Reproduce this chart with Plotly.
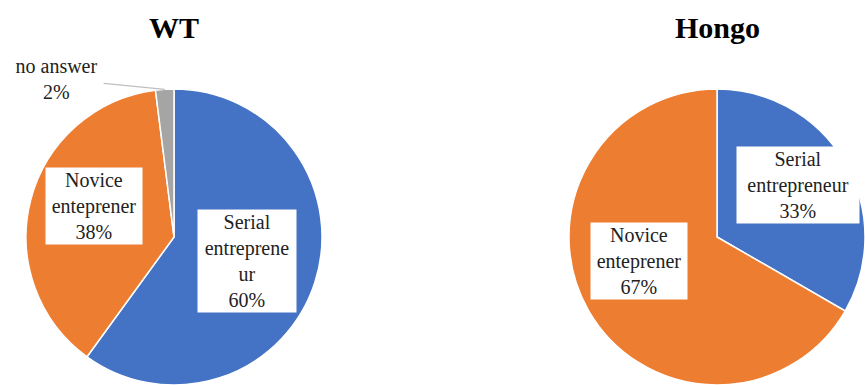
import math
import plotly.graph_objects as go

# ---------------- data ----------------
titles = ["WT", "Hongo"]
wt_categories = ["Serial entrepreneur", "Novice enteprener", "no answer"]
wt_values = [60, 38, 2]
wt_label_text = ["Serial<br>entreprene<br>ur", "Novice<br>enteprener", "no answer"]
hongo_categories = ["Serial entrepreneur", "Novice enteprener"]
hongo_values = [1, 2]
hongo_label_text = ["Serial<br>entrepreneur", "Novice<br>enteprener"]

# ---------------- style ----------------
W, H = 865, 385
R = 148
COLORS = {"Serial entrepreneur": "#4472C4", "Novice enteprener": "#ED7D31", "no answer": "#A5A5A5"}
FONT = "Liberation Serif"
pies = [
    dict(cx=174, cy=H - R, cats=wt_categories, vals=wt_values, text=wt_label_text,
         rfrac=[0.52, 0.58, 1.33], dtheta=[0, 7, -33], outside=[False, False, True],
         boxw=[98, 96, 93]),
    dict(cx=W - R, cy=H - R, cats=hongo_categories, vals=hongo_values, text=hongo_label_text,
         rfrac=[0.65, 0.55], dtheta=[-3, 13], outside=[False, False],
         boxw=[122, 96]),
]

fig = go.Figure()
annotations = []
for title, p in zip(titles, pies):
    cx, cy = p["cx"], p["cy"]
    fig.add_trace(go.Pie(
        labels=p["cats"], values=p["vals"], sort=False, direction="clockwise", rotation=0,
        marker=dict(colors=[COLORS[c] for c in p["cats"]], line=dict(color="white", width=1.5)),
        textinfo="none", hoverinfo="label+percent", showlegend=False,
        domain=dict(x=[(cx - R) / W, (cx + R) / W], y=[0, 2 * R / H]),
    ))
    annotations.append(dict(
        x=cx / W, y=1 - 27 / H, xref="paper", yref="paper", text=f"<b>{title}</b>",
        showarrow=False, font=dict(family=FONT, size=30, color="black"),
        xanchor="center", yanchor="middle"))
    total = sum(p["vals"])
    cum = 0
    for i, v in enumerate(p["vals"]):
        mid = (cum + v / 2) / total * 360
        cum += v
        pct = round(100 * v / total)
        txt = f"{p['text'][i]}<br>{pct}%"
        th = math.radians(mid + p["dtheta"][i])
        tx = cx + p["rfrac"][i] * R * math.sin(th)
        ty = cy - p["rfrac"][i] * R * math.cos(th)
        common = dict(xref="paper", yref="paper", text=txt, bgcolor="white", borderpad=1,
                      width=p["boxw"][i] - 2,
                      font=dict(family=FONT, size=20, color="#222222"))
        if p["outside"][i]:
            hm = math.radians(mid)
            hx = cx + R * math.sin(hm)
            hy = cy - R * math.cos(hm)
            annotations.append(dict(x=hx / W, y=1 - hy / H, ax=tx - hx, ay=ty - hy,
                                    showarrow=True, arrowhead=0, arrowwidth=1.2,
                                    arrowcolor="#BFBFBF", **common))
        else:
            annotations.append(dict(x=tx / W, y=1 - ty / H, showarrow=False,
                                    xanchor="center", yanchor="middle", **common))

fig.update_layout(
    width=W, height=H, margin=dict(l=0, r=0, t=0, b=0),
    paper_bgcolor="white", plot_bgcolor="white",
    annotations=annotations,
)
fig.write_html("out.html")
